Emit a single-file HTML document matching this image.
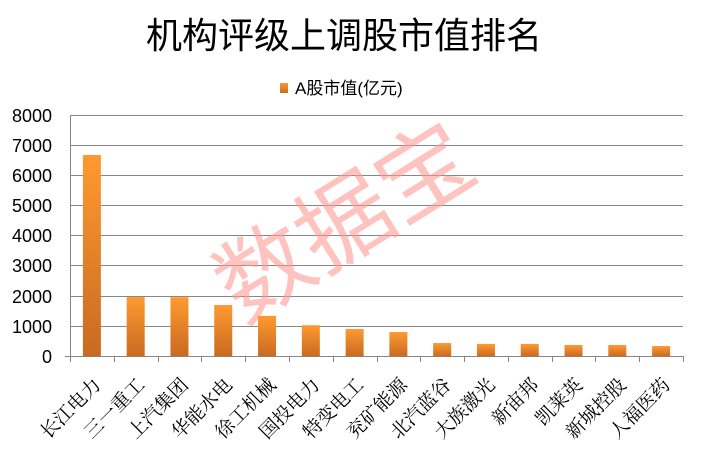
<!DOCTYPE html>
<html><head><meta charset="utf-8"><style>
body{margin:0;background:#fff;}
svg{display:block;}
</style></head><body>
<svg width="701" height="454" xmlns="http://www.w3.org/2000/svg">
<defs>
<linearGradient id="g" x1="0" y1="0" x2="0" y2="1">
<stop offset="0" stop-color="#ff9a30"/>
<stop offset="1" stop-color="#c86a22"/>
</linearGradient>
</defs>
<rect width="701" height="454" fill="#fff"/>
<text x="344" y="48" text-anchor="middle" font-family="Liberation Sans,'Noto Sans CJK SC',sans-serif" font-size="36" fill="#000">机构评级上调股市值排名</text>
<rect x="280" y="83" width="8" height="10" fill="url(#g)"/>
<text x="295" y="94" font-family="Liberation Sans,'Noto Sans CJK SC',sans-serif" font-size="17" fill="#000">A股市值(亿元)</text>
<g stroke="#868686" stroke-width="1">
<line x1="70" y1="115.5" x2="683" y2="115.5"/>
<line x1="70" y1="145.5" x2="683" y2="145.5"/>
<line x1="70" y1="175.5" x2="683" y2="175.5"/>
<line x1="70" y1="205.5" x2="683" y2="205.5"/>
<line x1="70" y1="235.5" x2="683" y2="235.5"/>
<line x1="70" y1="265.5" x2="683" y2="265.5"/>
<line x1="70" y1="296.5" x2="683" y2="296.5"/>
<line x1="70" y1="326.5" x2="683" y2="326.5"/>
<line x1="70.5" y1="115" x2="70.5" y2="362"/>
<line x1="65" y1="356.5" x2="683" y2="356.5"/>
</g>
<g stroke="#868686" stroke-width="1" id="ticks"></g>
<g font-family="Liberation Sans,sans-serif" font-size="18" fill="#000" text-anchor="end">
<text x="52" y="122">8000</text><text x="52" y="152">7000</text><text x="52" y="182">6000</text><text x="52" y="212">5000</text><text x="52" y="242">4000</text><text x="52" y="272">3000</text><text x="52" y="303">2000</text><text x="52" y="333">1000</text><text x="52" y="363">0</text>
</g>
<text x="0" y="0" transform="translate(362,250) rotate(-32)" text-anchor="middle" font-family="'Noto Sans CJK SC',sans-serif" font-size="94" fill="#ff9b95" fill-opacity="0.6">数据宝</text>
<g id="bars"></g>
<g id="labels" font-family="'Noto Serif CJK SC','Liberation Serif',serif" font-size="19" fill="#000" text-anchor="end"></g>
<script>
var names=["长江电力","三一重工","上汽集团","华能水电","徐工机械","国投电力","特变电工","兖矿能源","北汽蓝谷","大族激光","新宙邦","凯莱英","新城控股","人福医药"];
var vals=[6675,1965,1960,1700,1340,1030,905,805,440,410,410,375,375,340];
var ns="http://www.w3.org/2000/svg",w=613/14,b=document.getElementById("bars"),l=document.getElementById("labels"),t=document.getElementById("ticks");
for(var i=0;i<=14;i++){var x=Math.round(70+i*w)+0.5;var ln=document.createElementNS(ns,"line");ln.setAttribute("x1",x);ln.setAttribute("x2",x);ln.setAttribute("y1",356);ln.setAttribute("y2",362);t.appendChild(ln);}
for(var i=0;i<14;i++){var cx=70+w*(i+0.5),h=vals[i]*30.16/1000;
var r=document.createElementNS(ns,"rect");r.setAttribute("x",cx-9);r.setAttribute("width",18);r.setAttribute("y",356.3-h);r.setAttribute("height",h);r.setAttribute("fill","url(#g)");b.appendChild(r);
var tx=document.createElementNS(ns,"text");tx.setAttribute("transform","translate("+(cx+10)+",386) rotate(-45)");tx.textContent=names[i];l.appendChild(tx);}
</script>
</svg>
</body></html>
